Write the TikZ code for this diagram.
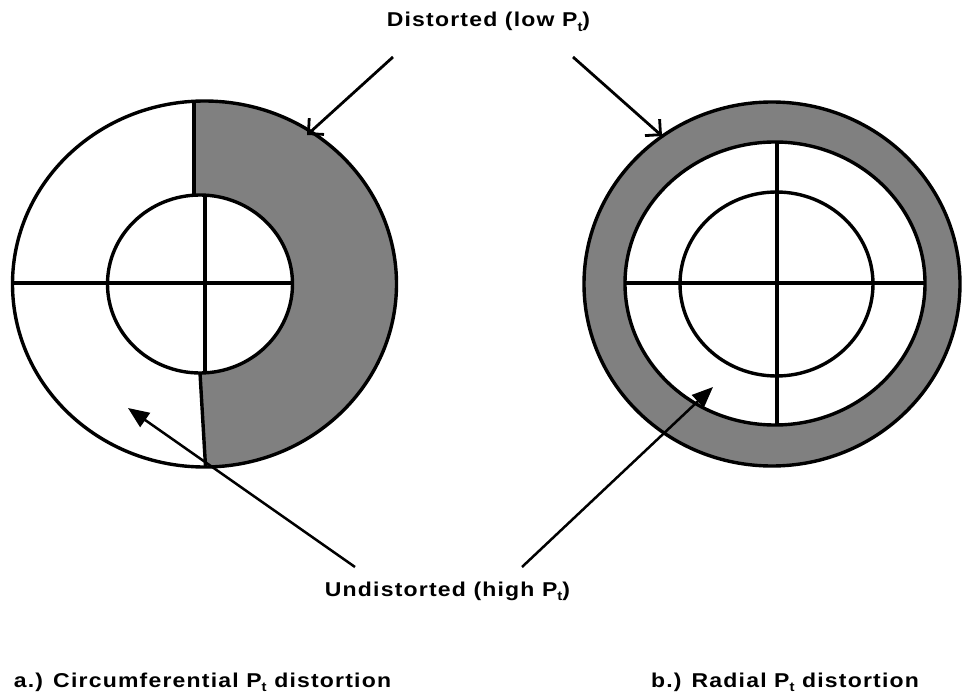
\documentclass[tikz,border=0pt]{standalone}
\usepackage{fontspec}
\setmainfont{Liberation Sans}
\usetikzlibrary{arrows.meta}
\newcommand\Psub{P\raisebox{-0.45ex}{\fontsize{13}{13}\selectfont t}}
\begin{document}
\begin{tikzpicture}[x=1pt,y=-1pt,
  shapeline/.style={line width=3.4pt},
  lbl/.style={inner sep=0pt, anchor=base, font=\fontsize{20}{22}\selectfont\bfseries\addfontfeature{FakeStretch=1.15,LetterSpace=6}},
  openarrow/.style={line width=2.8pt, -{Straight Barb[length=11pt,width=22pt,line width=2.8pt]}},
  fillarrow/.style={line width=2.5pt, -{Triangle[length=21pt,width=17pt]}}]
\useasboundingbox (0,0) rectangle (962,698);

% ---- left figure: circumferential distortion
\begin{scope}
  \clip (204.5,284) ellipse [x radius=192pt, y radius=183pt];
  \fill[gray] (194,80) -- (194,200) -- (200,373) -- (205.5,480) -- (420,480) -- (420,80) -- cycle;
\end{scope}
\draw[shapeline] (204.5,284) ellipse [x radius=192pt, y radius=183pt];
\draw[shapeline, fill=white] (200,284) ellipse [x radius=92.5pt, y radius=89pt];
\draw[shapeline] (194,101) -- (194,195.5);
\draw[shapeline] (205,195) -- (205,373);
\draw[shapeline] (200,373) -- (205.5,466);
\draw[shapeline] (12,283) -- (293,283);

% ---- right figure: radial distortion
\draw[shapeline, fill=gray] (772,284) ellipse [x radius=188pt, y radius=182pt];
\draw[shapeline, fill=white] (775,283.5) ellipse [x radius=150pt, y radius=141.5pt];
\draw[shapeline] (776.5,284) ellipse [x radius=96.5pt, y radius=92pt];
\draw[shapeline] (777,142) -- (777,425);
\draw[shapeline] (625,283) -- (925,283);

% ---- labels
\node[lbl] (dist) at (488.5,27) {Distorted (low \Psub)};
\node[lbl] (undist) at (447.5,596) {Undistorted (high \Psub)};
\node[lbl] (capa) at (202.5,687) {a.) Circumferential \Psub\ distortion};
\node[lbl] (capb) at (785,687) {b.) Radial \Psub\ distortion};

% ---- arrow ends
\coordinate (d1s) at (393,57);
\coordinate (d1e) at (307,135);
\coordinate (d2s) at (573,57);
\coordinate (d2e) at (662,136);
\coordinate (u1s) at (355,567);
\coordinate (u1e) at (128,408);
\coordinate (u2s) at (522,567);
\coordinate (u2e) at (713,387);

\draw[openarrow] (d1s) -- (d1e);
\draw[openarrow] (d2s) -- (d2e);
\draw[fillarrow] (u1s) -- (u1e);
\draw[fillarrow] (u2s) -- (u2e);
\end{tikzpicture}
\end{document}
